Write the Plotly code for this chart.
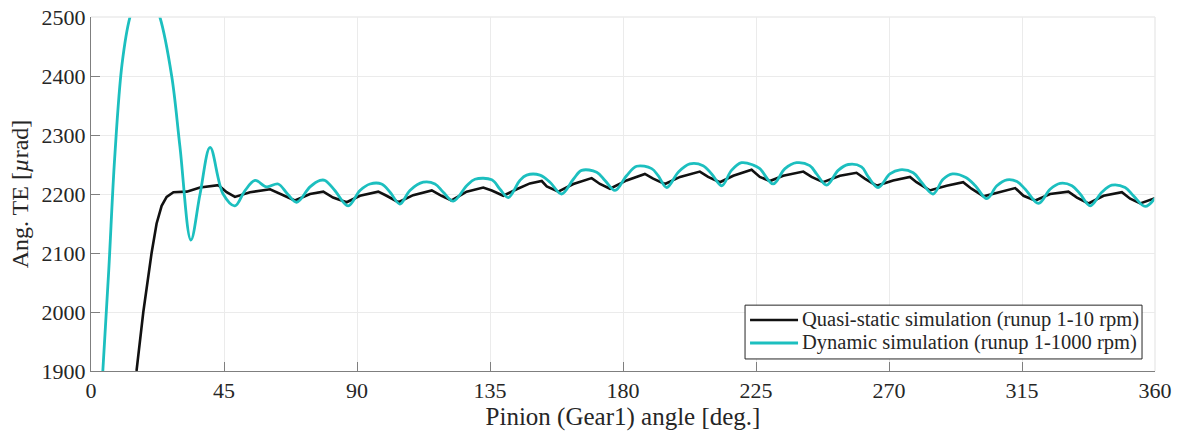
import plotly.graph_objects as go

# Quasi-static simulation (runup 1-10 rpm): pinion angle [deg] and angular TE [µrad]
qs_angle = [12.0, 15.4, 17.7, 20.5, 22.2, 23.9, 25.6, 27.9, 32.4, 36.9,
            43.1, 45.9, 48.7, 53.8, 60.6, 64.0, 67.3, 69.0, 74.1,
            78.6, 81.9, 86.5, 91.0, 97.2, 100.0, 104.0, 109.0,
            115.3, 118.6, 122.0, 127.1, 132.7, 135.6, 139.5, 144.0, 148.5,
            152.5, 154.2, 158.1, 163.2, 169.4, 172.2, 175.6, 181.2,
            187.4, 190.2, 194.2, 199.3, 206.0, 208.8, 212.8, 217.3,
            223.5, 226.3, 229.7, 234.2, 241.0, 243.8, 247.7, 253.4,
            259.0, 261.8, 265.8, 271.4, 277.1, 279.3, 283.8, 289.5,
            295.1, 297.9, 302.0, 307.6, 312.7, 315.5, 319.5, 324.5,
            330.7, 333.6, 337.5, 342.6, 348.8, 351.6, 355.0, 360.0]
qs_te = [1780, 1900, 2000, 2100, 2150, 2180, 2195, 2203, 2204, 2211,
         2215, 2203, 2195, 2203, 2208, 2200, 2192, 2189, 2200,
         2204, 2194, 2186, 2197, 2204, 2197, 2186, 2198,
         2206, 2197, 2189, 2204, 2211, 2206, 2197, 2208, 2218,
         2222, 2213, 2204, 2217, 2227, 2217, 2209, 2223,
         2234, 2226, 2217, 2229, 2238, 2229, 2220, 2231,
         2241, 2229, 2222, 2231, 2238, 2229, 2220, 2231,
         2236, 2226, 2214, 2223, 2229, 2220, 2206, 2214,
         2220, 2209, 2196, 2204, 2210, 2197, 2189, 2200,
         2204, 2194, 2184, 2197, 2203, 2192, 2184, 2193]

# Dynamic simulation (runup 1-1000 rpm)
dyn_angle = [2.5, 4.0, 6.0, 8.0, 10.5, 13.2,
             18.0, 23.3, 27.3, 30.1, 33.8, 36.9, 40.3,
             44.7, 48.7, 52.0, 55.5, 59.4, 63.3, 66.5, 69.6, 74.1,
             77.5, 79.2, 82.5, 87.0, 91.0, 94.4, 98.3, 101.2, 104.5,
             107.9, 112.4, 116.4, 119.2, 122.6, 127.1, 129.9, 135.6,
             138.4, 141.2, 145.1, 147.4, 151.9, 155.3, 159.2, 163.2,
             166.0, 171.1, 173.9, 177.3, 181.2, 184.6, 189.7, 191.9,
             194.8, 198.7, 202.6, 207.1, 210.0, 213.4, 216.7, 220.1,
             224.1, 226.3, 230.8, 234.8, 238.7, 243.2, 245.5, 248.9,
             252.8, 256.2, 260.7, 263.0, 266.3, 270.3, 273.7, 278.2,
             281.0, 284.9, 288.3, 291.5, 296.0, 299.2, 303.1, 306.5,
             309.9, 313.3, 316.1, 320.6, 324.5, 327.9, 331.9, 334.7,
             338.1, 342.0, 345.4, 349.9, 352.7, 356.7, 360.0]
dyn_te = [1740, 1900, 2070, 2260, 2420, 2500,
          2565, 2500, 2400, 2280, 2122, 2200, 2279,
          2200, 2180, 2205, 2223, 2212, 2217, 2200, 2186, 2212,
          2223, 2223, 2206, 2180, 2206, 2217, 2217, 2203, 2183,
          2206, 2220, 2217, 2203, 2188, 2214, 2225, 2224,
          2208, 2194, 2223, 2232, 2232, 2220, 2200, 2225,
          2240, 2237, 2223, 2206, 2231, 2247, 2243, 2231,
          2211, 2237, 2251, 2248, 2234, 2214, 2240, 2253,
          2249, 2243, 2217, 2243, 2253, 2248, 2234, 2215,
          2240, 2250, 2246, 2229, 2211, 2234, 2241, 2236,
          2220, 2200, 2225, 2234, 2228, 2214, 2192, 2214,
          2224, 2221, 2208, 2184, 2208, 2218, 2214, 2200,
          2180, 2203, 2215, 2211, 2197, 2179, 2193]

series_names = ["Quasi-static simulation (runup 1-10 rpm)",
                "Dynamic simulation (runup 1-1000 rpm)"]

x_ticks = [0, 45, 90, 135, 180, 225, 270, 315, 360]
y_ticks = [1900, 2000, 2100, 2200, 2300, 2400, 2500]

FONT = "Liberation Serif, Times New Roman, serif"
TEXT = "#262626"
GRID = "#ebebeb"
BLACK = "#111111"
CYAN = "#1cbfbf"

fig = go.Figure()
fig.add_trace(go.Scatter(
    x=qs_angle, y=qs_te, mode="lines", name=series_names[0],
    line=dict(color=BLACK, width=2.6), showlegend=False,
))
fig.add_trace(go.Scatter(
    x=dyn_angle, y=dyn_te, mode="lines", name=series_names[1],
    line=dict(color=CYAN, width=2.8, shape="spline", smoothing=1.0),
    showlegend=False,
))

axis_common = dict(
    showgrid=True, gridcolor=GRID, gridwidth=1,
    showline=True, linecolor="#7f7f7f", linewidth=1,
    ticks="inside", ticklen=9, tickcolor="#7f7f7f",
    tickfont=dict(family=FONT, size=22, color=TEXT),
    zeroline=False, mirror=False, automargin=False,
)

fig.update_layout(
    width=1177, height=436,
    margin=dict(l=91, r=22, t=17, b=65),
    paper_bgcolor="white", plot_bgcolor="white",
    font=dict(family=FONT, color=TEXT),
    showlegend=False,
    xaxis=dict(
        axis_common, range=[0, 360], tickvals=x_ticks,
        title=dict(text="Pinion (Gear1) angle [deg.]",
                   font=dict(family=FONT, size=25, color=TEXT), standoff=2),
    ),
    yaxis=dict(
        axis_common, range=[1900, 2500], tickvals=y_ticks,
        title=dict(text="Ang. TE [<i>µ</i>rad]",
                   font=dict(family=FONT, size=24, color=TEXT), standoff=6),
    ),
)

# Light frame along the top and right edges of the plot area
fig.add_shape(type="line", xref="paper", yref="paper", x0=0, x1=1, y0=1, y1=1,
              line=dict(color=GRID, width=1.5))
fig.add_shape(type="line", xref="paper", yref="paper", x0=1, x1=1, y0=0, y1=1,
              line=dict(color=GRID, width=1.5))

# Compact boxed legend in the lower-right corner
fig.add_shape(type="rect", xref="paper", yref="paper",
              x0=0.6147, x1=0.9878, y0=0.034, y1=0.186,
              line=dict(color="#262626", width=1), fillcolor="white", layer="above")
for row_y, name, color, width in [(0.1441, series_names[0], BLACK, 2.6),
                                  (0.0791, series_names[1], CYAN, 2.8)]:
    fig.add_shape(type="line", xref="paper", yref="paper",
                  x0=0.6194, x1=0.6645, y0=row_y, y1=row_y,
                  line=dict(color=color, width=width), layer="above")
    fig.add_annotation(xref="paper", yref="paper", x=0.6665, y=row_y,
                       text=name, showarrow=False, xanchor="left", yanchor="middle",
                       font=dict(family=FONT, size=20.5, color=TEXT))

fig.write_html("out.html")
